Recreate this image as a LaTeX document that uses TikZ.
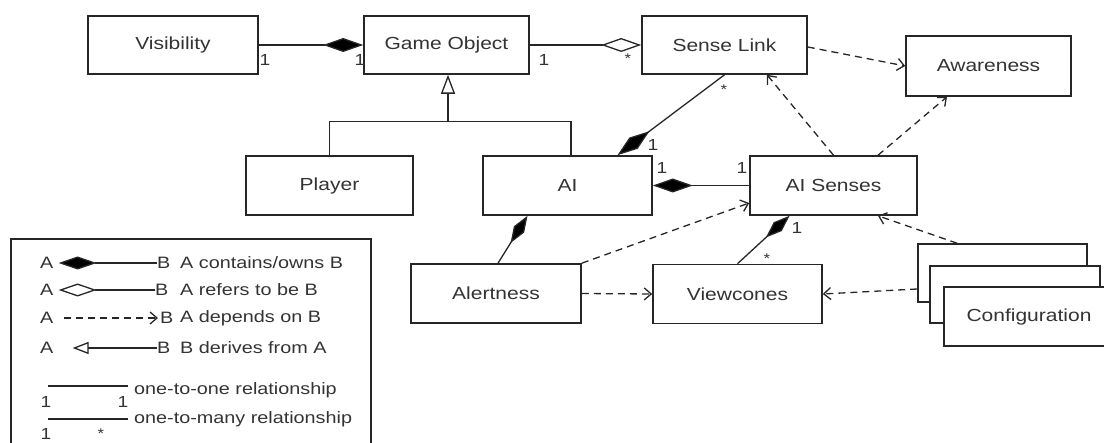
\documentclass[tikz,border=0pt]{standalone}
\usepackage{fontspec}
\setmainfont[FakeStretch=1.2]{Liberation Sans}
\usetikzlibrary{arrows.meta,calc}

\tikzset{
  cls/.style={draw=black!85, line width=1.6pt, fill=white, minimum height=58pt,
    font=\fontsize{17.5}{20}\selectfont, text=black!80, inner sep=0pt},
  assoc/.style={draw=black!85, line width=1.3pt},
  owns/.style={assoc, -{Diamond[length=40pt,width=14pt,fill=black]}},
  refs/.style={assoc, -{Diamond[open,length=40pt,width=14pt,fill=white]}},
  uses/.style={assoc, dash pattern=on 7pt off 5pt, -{Straight Barb[length=7pt,width=12pt]}},
  derive/.style={assoc, -{Triangle[open,length=19pt,width=14pt,fill=white]}},
  mult/.style={font=\fontsize{16}{18}\selectfont, text=black!80, inner sep=0pt},
  star/.style={font=\fontsize{14}{16}\selectfont, text=black!80, inner sep=0pt},
  legtext/.style={font=\fontsize{16.5}{18}\selectfont, text=black!80, inner sep=0pt, anchor=west},
}

\begin{document}
\begin{tikzpicture}[x=1pt,y=-1pt]
\useasboundingbox (0,0) rectangle (1104,443);

% classes
\node[cls, minimum width=170pt] (vis) at (173,45)    {Visibility};
\node[cls, minimum width=165pt] (go)  at (446.5,45)  {Game Object};
\node[cls, minimum width=165pt] (sl)  at (724.5,45)  {Sense Link};
\node[cls, minimum width=165pt, minimum height=60pt] (aw) at (988.5,66) {Awareness};
\node[cls, minimum width=167pt, minimum height=59pt] (pl)  at (329.5,185.5) {Player};
\node[cls, minimum width=169pt, minimum height=59pt] (ai)  at (567.5,185.5) {AI};
\node[cls, minimum width=167pt, minimum height=59pt] (ais) at (833.5,185.5) {AI Senses};
\node[cls, minimum width=170pt, minimum height=59pt] (al)  at (496,293.5)  {Alertness};
\node[cls, minimum width=169pt, minimum height=59pt] (vc)  at (737.5,294)  {Viewcones};

% stacked configuration objects
\node[cls, minimum width=169pt] (cfg1) at (1002.5,273) {};
\node[cls, minimum width=170pt, minimum height=57pt] (cfg2) at (1015,294.5) {};
\node[cls, minimum width=170pt, minimum height=59pt] (cfg3) at (1029,316.5) {Configuration};

% composition
\draw[owns] (vis.east) -- (go.west);
\draw[owns] (sl.south) -- ([xshift=50pt]ai.north);
\draw[owns] (ais.west) -- (ai.east);
\draw[owns,-{Diamond[length=32pt,width=12pt,fill=black]}] ([xshift=2pt]al.north) -- ([xshift=-40pt]ai.south);
\draw[owns,-{Diamond[length=32pt,width=12pt,fill=black]}] (vc.north) -- ([xshift=-44pt]ais.south);

% aggregation
\draw[refs] (go.east) -- (sl.west);

% generalisation
\coordinate (gen) at ($(go.south)+(1.5,47)$);
\draw[derive] (gen) -- (gen |- go.south);
\draw[assoc] (pl.north) |- (gen) -| ([xshift=3.5pt]ai.north);

% dependencies
\draw[uses] (al.north east) -- ([yshift=-17.5pt]ais.west);
\draw[uses] (al.east) -- (vc.west);
\draw[uses] ([yshift=-16pt]cfg1.west) -- (vc.east);
\draw[uses] ([xshift=-45.5pt]cfg1.north) -- ([xshift=44.5pt]ais.south);
\draw[uses] (ais.north) -- ([xshift=42.5pt]sl.south);
\draw[uses] ([xshift=44.5pt]ais.north) -- ([xshift=-41.5pt]aw.south);
\draw[uses] ([yshift=-2pt]sl.east) -- (aw.west);

% multiplicities
\node[mult] (m1) at (265,60) {1};
\node[mult] (m2) at (360,60) {1};
\node[mult] (m3) at (544,60) {1};
\node[star] (m4) at (628,59) {*};
\node[star] (m5) at (724,90) {*};
\node[mult] (m6) at (653,145) {1};
\node[mult] (m7) at (662,168) {1};
\node[mult] (m8) at (742,168) {1};
\node[mult] (m9) at (797,228) {1};
\node[star] (m10) at (767,259) {*};

% legend
\node[draw=black!85, line width=1.6pt, minimum width=360pt, minimum height=240pt,
      anchor=north west, inner sep=0pt] (legend) at (10,238) {};

\node[legtext] (la1) at (40,263) {A};
\node[legtext] (lb1) at (157,263) {B};
\node[legtext] (lt1) at (180,263) {A contains/owns B};
\draw[owns,-{Diamond[length=38pt,width=13pt,fill=black]}] (lb1.west) -- ([xshift=5pt]la1.east);

\node[legtext] (la2) at (40,290) {A};
\node[legtext] (lb2) at (155,290) {B};
\node[legtext] (lt2) at (180,290) {A refers to be B};
\draw[refs,-{Diamond[open,length=38pt,width=13pt,fill=white]}] (lb2.west) -- ([xshift=5pt]la2.east);

\node[legtext] (la3) at (40,318) {A};
\node[legtext] (lb3) at (160,318) {B};
\node[legtext] (lt3) at (180,318) {A depends on B};
\draw[uses] ([xshift=10pt]la3.east) -- ([xshift=-2pt]lb3.west);

\node[legtext] (la4) at (40,348) {A};
\node[legtext] (lb4) at (157,348) {B};
\node[legtext] (lt4) at (180,348) {B derives from A};
\draw[derive,-{Triangle[open,length=16pt,width=12pt,fill=white]}] (lb4.west) -- ([xshift=19pt]la4.east);

\coordinate (r1a) at (48,386);
\coordinate (r1b) at (128,386);
\draw[assoc] (r1a) -- (r1b);
\node[mult] (r1l) at (46,402) {1};
\node[mult] (r1r) at (123,402) {1};
\node[legtext] (lt5) at (134,390) {one-to-one relationship};

\coordinate (r2a) at (48,419);
\coordinate (r2b) at (128,419);
\draw[assoc] (r2a) -- (r2b);
\node[mult] (r2l) at (46,434) {1};
\node[star] (r2r) at (101,434) {*};
\node[legtext] (lt6) at (134,419) {one-to-many relationship};
\end{tikzpicture}
\end{document}
